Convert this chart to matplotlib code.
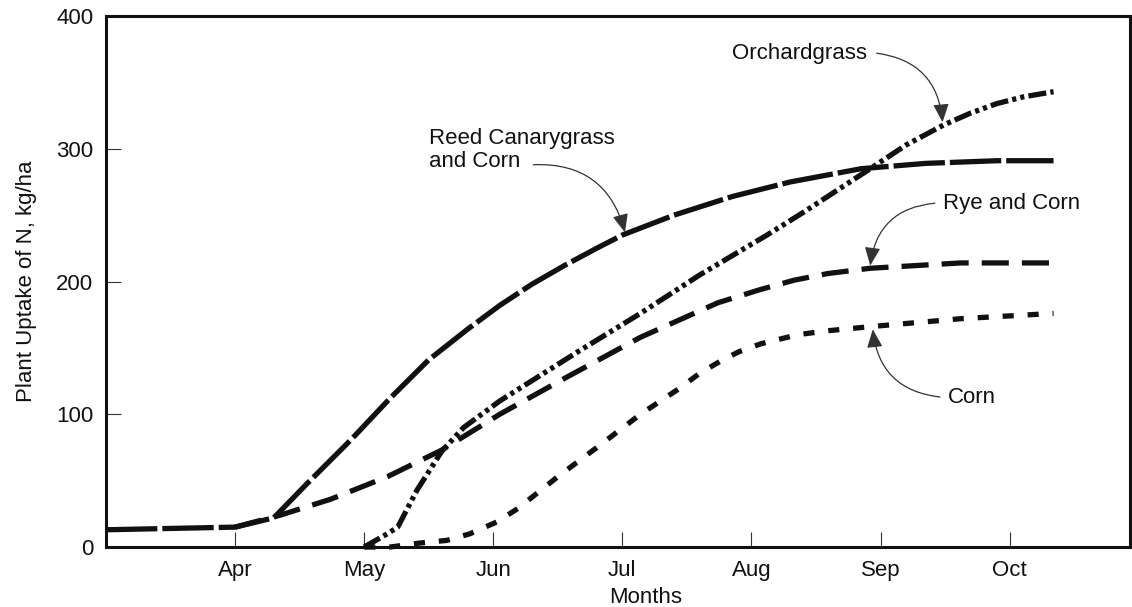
import numpy as np
import matplotlib
matplotlib.use("Agg")
import matplotlib.pyplot as plt

plt.rcParams['font.family'] = ['Liberation Sans', 'DejaVu Sans']
plt.rcParams['lines.scale_dashes'] = False

# month positions: Mar = 0, Apr = 1, ... Oct = 7
months = ['Apr', 'May', 'Jun', 'Jul', 'Aug', 'Sep', 'Oct']
month_pos = [1, 2, 3, 4, 5, 6, 7]

# Reed Canarygrass and Corn
reed_x = [0, 1.0, 1.3, 1.55, 1.9, 2.2, 2.5, 2.8, 3.05, 3.3, 3.55, 3.8, 4.0, 4.4, 4.85, 5.3, 5.85, 6.35, 6.9, 7.34]
reed_y = [13, 15, 22, 47, 81, 112, 141, 164, 182, 198, 212, 225, 235, 250, 264, 275, 285, 289, 291, 291]

# Orchardgrass
orch_x = [2.0, 2.18, 2.26, 2.41, 2.6, 2.77, 3.05, 3.67, 4.14, 4.6, 5.12, 5.4, 5.92, 6.2, 6.49, 6.7, 6.9, 7.1, 7.34]
orch_y = [0, 10, 15, 43, 72, 90, 110, 148, 176, 205, 235, 252, 285, 303, 318, 327, 334, 339, 343]

# Rye and Corn (same as Reed Canarygrass and Corn before April)
rye_x = [1.0, 1.35, 1.74, 2.18, 2.6, 3.05, 3.57, 4.14, 4.74, 5.07, 5.33, 5.59, 5.92, 6.62, 7.34]
rye_y = [15, 24, 36, 53, 73, 100, 128, 158, 184, 194, 201, 206, 210, 214, 214]

# Corn
corn_x = [2.0, 2.2, 2.43, 2.64, 2.82, 3.03, 3.19, 3.5, 3.83, 4.14, 4.45, 4.6, 4.76, 4.9, 5.07, 5.36, 5.6, 5.92, 6.62, 7.34]
corn_y = [0, 0, 3, 5, 10, 19, 29, 53, 77, 100, 120, 131, 140, 147, 153, 160, 163, 166, 172, 176]

ink = '#111111'
lw = 3.8

fig = plt.figure(figsize=(11.32, 6.07), dpi=100)
ax = fig.add_axes([0.0936, 0.0988, 0.9044, 0.8748])

ax.plot(reed_x, reed_y, color=ink, lw=lw, linestyle=(0, (37, 3.6)), clip_on=False)
ax.plot(rye_x, rye_y, color=ink, lw=lw, linestyle=(0, (19.5, 9.4)), clip_on=False)
ax.plot(orch_x, orch_y, color=ink, lw=lw, linestyle=(0, (13, 3, 3, 3, 3, 3)), clip_on=False)
ax.plot(corn_x, corn_y, color=ink, lw=lw, linestyle=(0, (8, 10)), clip_on=False)

ax.set_xlim(0, 7.93)
ax.set_ylim(0, 400)
ax.set_xticks(month_pos)
ax.set_xticklabels(months)
ax.set_yticks([0, 100, 200, 300, 400])

for s in ax.spines.values():
    s.set_linewidth(2.2)
    s.set_color(ink)
ax.tick_params(direction='in', length=10.8, width=0.8, color='#333333',
               labelsize=16, labelcolor=ink, pad=9)

ax.set_ylabel('Plant Uptake of N, kg/ha', fontsize=16, color=ink, labelpad=14)
ax.set_xlabel('Months', fontsize=16, color=ink)
ax.xaxis.set_label_coords(0.527, -0.075)

# annotations: text, arrow start, arrow tip
arrow_kw = dict(arrowstyle='-|>,head_length=0.7,head_width=0.3', color='#333333',
                lw=0.9, shrinkA=0, shrinkB=0, mutation_scale=16)

ax.text(2.50, 299, 'Reed Canarygrass\nand Corn', fontsize=16, color=ink,
        ha='left', va='center', linespacing=1.15)
ax.annotate('', xy=(4.02, 237), xytext=(3.31, 288),
            arrowprops=dict(connectionstyle='arc3,rad=-0.4', **arrow_kw))

ax.text(4.85, 372, 'Orchardgrass', fontsize=16, color=ink, ha='left', va='center')
ax.annotate('', xy=(6.48, 320), xytext=(5.97, 372),
            arrowprops=dict(connectionstyle='arc3,rad=-0.4', **arrow_kw))

ax.text(6.48, 259, 'Rye and Corn', fontsize=16, color=ink, ha='left', va='center')
ax.annotate('', xy=(5.92, 212), xytext=(6.42, 259),
            arrowprops=dict(connectionstyle='arc3,rad=0.4', **arrow_kw))

ax.text(6.52, 113, 'Corn', fontsize=16, color=ink, ha='left', va='center')
ax.annotate('', xy=(5.94, 164), xytext=(6.46, 113),
            arrowprops=dict(connectionstyle='arc3,rad=-0.4', **arrow_kw))

fig.savefig('out.png', dpi=100)
